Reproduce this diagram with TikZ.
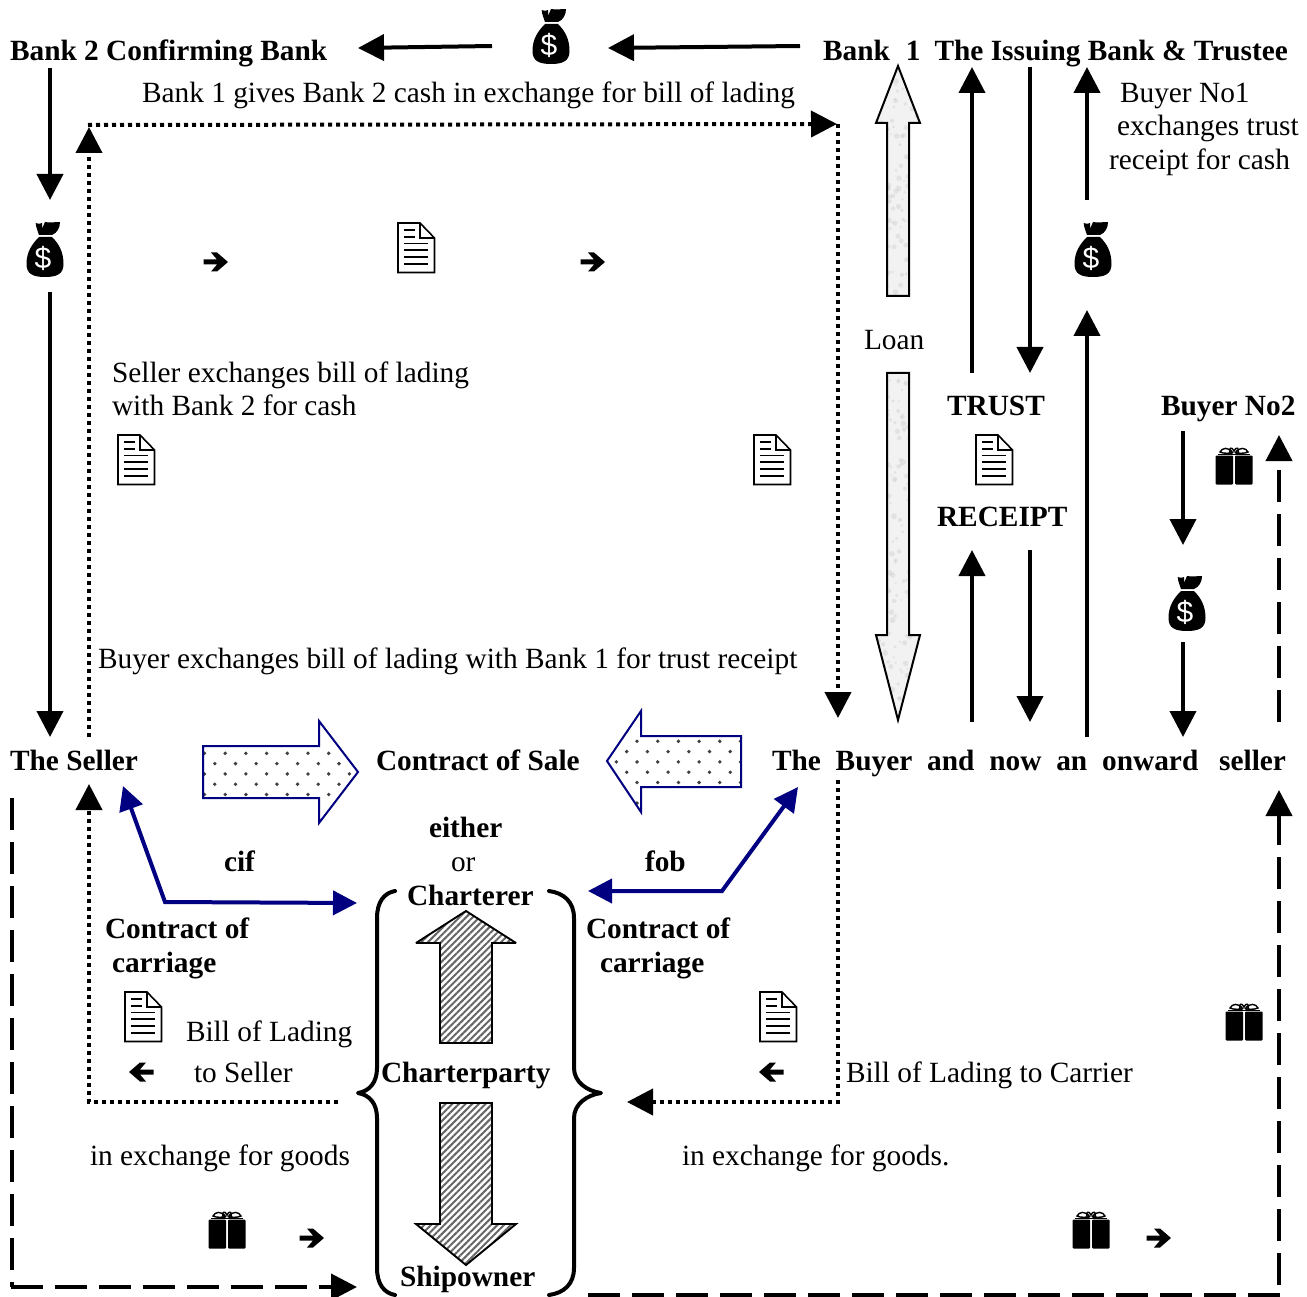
\documentclass[tikz,border=0pt]{standalone}
\usepackage{fontspec}
\setmainfont{Liberation Serif}
\newfontfamily\bagfont{Liberation Sans}
\usetikzlibrary{arrows.meta,patterns.meta}
\definecolor{navyline}{RGB}{0,0,128}
\tikzset{
  x=1pt,y=-1pt,
  txt/.style={anchor=base west,inner sep=0pt,outer sep=0pt,font=\fontsize{29.35}{33}\selectfont},
  btxt/.style={txt,font=\fontsize{29.35}{33}\selectfont\bfseries},
  conn/.style={line width=4pt,-{Triangle[length=26pt,width=26pt]}},
  dotline/.style={line width=4pt,dash pattern=on 4pt off 4pt,-{Triangle[length=26pt,width=26pt]}},
  dashline/.style={line width=4pt,dash pattern=on 32pt off 12pt,-{Triangle[length=26pt,width=26pt]}},
  dashplain/.style={line width=4pt,dash pattern=on 32pt off 12pt},
  blueline/.style={line width=4pt,navyline,{Triangle[length=24pt,width=24pt]}-{Triangle[length=24pt,width=24pt]}},
  brace/.style={line width=4pt,line cap=round,line join=round},
  blockb/.style={draw=navyline,line width=2pt,fill=white,line join=miter},
  blockh/.style={draw=black,line width=1.9pt,miter limit=3,pattern={Lines[angle=45,distance=4.7pt,line width=2pt]},pattern color=black!60},
  blockl/.style={draw=black,line width=2pt},
  moneybag/.pic={
    \fill (-9.3,1) .. controls (-6,2) and (-4,2) .. (-3,1) -- (-3,7) -- (0,0) .. controls (5,1) and (10,0) .. (15,0)
       .. controls (15,6) and (12,11) .. (7,13) -- (-6,13) .. controls (-7,9) and (-9,6) .. (-9.3,1) -- cycle;
    \fill (-6,15) -- (7,15) .. controls (14,22) and (18.5,30) .. (18.5,42) .. controls (18.5,52) and (12,55) .. (0,55)
       .. controls (-12,55) and (-18.5,52) .. (-18.5,42) .. controls (-18.5,30) and (-13,22) .. (-6,15) -- cycle;
    \node[inner sep=0pt,text=white,font=\fontsize{30}{30}\selectfont\bagfont] (-d) at (-2,36) {\$};
  },
  giftbox/.pic={
    \fill[rounded corners=1pt] (-18.5,8.5) rectangle (-1,37.5);
    \fill[rounded corners=1pt] (1,8.5) rectangle (18.5,37.5);
    \draw[line width=1pt] (-16,7) -- (16,7);
    \draw[line width=1.4pt] (-1,6) .. controls (-6,-1) and (-12,1) .. (-14,5) .. controls (-10,7) and (-5,6) .. (-1,6)
       (1,6) .. controls (6,-1) and (12,1) .. (14,5) .. controls (10,7) and (5,6) .. (1,6)
       (-4,6) .. controls (-6,1) and (-2,-1) .. (0,4) .. controls (2,-1) and (6,1) .. (4,6);
  },
  docpage/.pic={
    \draw[line width=1.6pt,fill=white,line join=miter] (0,0) -- (22,0) -- (36.5,15) -- (36.5,49.5) -- (0,49.5) -- cycle;
    \draw[line width=1.6pt] (22,0) -- (22,15) -- (36.5,15);
    \draw[line width=1.6pt] (6,7) -- (17,7) (6,14) -- (17,14) (6,20.5) -- (30,20.5) (6,27) -- (30,27) (6,34) -- (30,34) (6,41) -- (30,41);
  },
  smallarrow/.pic={
    \fill (-11.5,-2.5) -- (2,-2.5) -- (-4,-9.5) -- (2,-9.5) -- (13,0) -- (2,9.5) -- (-4,9.5) -- (2,2.5) -- (-11.5,2.5) -- cycle;
  },
}
\newcommand{\txtat}[4][txt]{\node[#1] (#2) at (#3) {#4};}
\newcommand{\mottle}{%
  \fill[black!5] (860,50) rectangle (930,730);
  \pgfmathsetseed{7}
  \foreach \k in {1,...,420}{
    \pgfmathsetmacro{\px}{874+48*rnd}
    \pgfmathsetmacro{\py}{60+665*rnd}
    \pgfmathsetmacro{\pr}{1+2*rnd}
    \fill[black!22,opacity=0.35] (\px,\py) circle (\pr);
  }%
}
\begin{document}
\begin{tikzpicture}
\useasboundingbox[fill=white] (0,0) rectangle (1307,1297);

% block arrows: navy dotted
\begin{scope}
  \clip (203,746) -- (319,746) -- (319,721) -- (358,772) -- (319,823) -- (319,798) -- (203,798) -- cycle;
  \foreach \r in {0,...,6}{ \foreach \c in {0,...,8}{
     \pgfmathsetmacro{\px}{204.5+\c*20.7+mod(\r+1,2)*10.3}
     \pgfmathsetmacro{\py}{743+\r*10.3}
     \fill[black!75] (\px,\py) circle (1.9);
  }}
\end{scope}
\draw[draw=navyline,line width=2pt] (203,746) -- (319,746) -- (319,721) -- (358,772) -- (319,823) -- (319,798) -- (203,798) -- cycle;
\begin{scope}
  \clip (741,736) -- (641,736) -- (641,711) -- (607,761) -- (641,812) -- (641,787) -- (741,787) -- cycle;
  \foreach \r in {0,...,7}{ \foreach \c in {0,...,7}{
     \pgfmathsetmacro{\px}{606+\c*20.7+mod(\r,2)*10.3}
     \pgfmathsetmacro{\py}{731+\r*10.3}
     \fill[black!75] (\px,\py) circle (1.9);
  }}
\end{scope}
\draw[draw=navyline,line width=2pt] (741,736) -- (641,736) -- (641,711) -- (607,761) -- (641,812) -- (641,787) -- (741,787) -- cycle;

% hatched
\path[blockh] (466,911) -- (516,943) -- (492,943) -- (492,1043) -- (440,1043) -- (440,943) -- (416,943) -- cycle;
\path[blockh] (440,1103) -- (492,1103) -- (492,1224) -- (516,1224) -- (466,1265) -- (416,1224) -- (440,1224) -- cycle;

% Loan
\begin{scope}
  \clip (898,66) -- (920,123) -- (909,123) -- (909,296) -- (887,296) -- (887,123) -- (876,123) -- cycle
        (887,373) -- (909,373) -- (909,635) -- (920,635) -- (898,720) -- (876,635) -- (887,635) -- cycle;
  \mottle
\end{scope}
\path[blockl] (898,66) -- (920,123) -- (909,123) -- (909,296) -- (887,296) -- (887,123) -- (876,123) -- cycle;
\path[blockl] (887,373) -- (909,373) -- (909,635) -- (920,635) -- (898,720) -- (876,635) -- (887,635) -- cycle;

% braces
\draw[brace] (395,891) .. controls (384,893) and (377,902) .. (377,918) -- (377,1068)
   .. controls (377,1082) and (370,1091) .. (358,1093) .. controls (370,1095) and (377,1104) .. (377,1118)
   -- (377,1268) .. controls (377,1284) and (384,1293) .. (395,1295);
\draw[brace] (549,891) .. controls (564,893) and (574,902) .. (574,918) -- (574,1068)
   .. controls (574,1082) and (587,1091) .. (601,1093) .. controls (587,1095) and (574,1104) .. (574,1118)
   -- (574,1268) .. controls (574,1284) and (564,1293) .. (549,1295);

% texts
\txtat[btxt]{bankB}{10,61}{Bank 2 Confirming Bank}
\txtat[btxt]{bankA}{823,61}{Bank\hspace{16pt}1\hspace{14pt}The Issuing Bank \& Trustee}
\txtat{gives}{142,103}{Bank 1 gives Bank 2 cash in exchange for bill of lading}
\txtat{noA}{1120,103}{Buyer No1}
\txtat{noB}{1117,136}{exchanges trust}
\txtat{noC}{1109,170}{receipt for cash}
\txtat{loan}{864,349}{Loan}
\txtat{selA}{112,382}{Seller exchanges bill of lading}
\txtat{selB}{112,415}{with Bank 2 for cash}
\txtat[btxt]{trust}{947,415}{TRUST}
\txtat[btxt]{buyerB}{1161,415}{Buyer No2}
\txtat[btxt]{receipt}{937,526}{RECEIPT}
\txtat{buyx}{98,668}{Buyer exchanges bill of lading with Bank 1 for trust receipt}
\txtat[btxt]{seller}{10,770}{The Seller}
\txtat[btxt]{sale}{376,770}{Contract of Sale}
\txtat[btxt]{buyer}{772,770}{\makebox[514pt][s]{The Buyer and now an onward\hspace{6pt} seller}}
\txtat[btxt]{either}{429,837}{either}
\txtat{or}{451,871}{or}
\txtat[btxt]{cif}{224,871}{cif}
\txtat[btxt]{fob}{645,871}{fob}
\txtat[btxt]{charterer}{407,905}{Charterer}
\txtat[btxt]{cocA}{105,938}{Contract of}
\txtat[btxt]{carA}{112,972}{carriage}
\txtat[btxt]{cocB}{586,938}{Contract of}
\txtat[btxt]{carB}{600,972}{carriage}
\txtat{blA}{186,1041}{Bill of Lading}
\txtat{toS}{194,1082}{to Seller}
\txtat[btxt]{cparty}{381,1082}{Charterparty}
\txtat{blC}{846,1082}{Bill of Lading to Carrier}
\txtat{exA}{90,1165}{in exchange for goods}
\txtat{exB}{682,1165}{in exchange for goods.}
\txtat[btxt]{owner}{400,1286}{Shipowner}

% icons
\pic (bagA) at (551,9) {moneybag};
\pic (bagB) at (45,222) {moneybag};
\pic (bagC) at (1093,222) {moneybag};
\pic (bagD) at (1187,576) {moneybag};
\pic (gfA) at (1234,447) {giftbox};
\pic (gfB) at (1244,1003) {giftbox};
\pic (gfC) at (227,1211) {giftbox};
\pic (gfD) at (1091,1211) {giftbox};
\pic (dcA) at (398,223) {docpage};
\pic (dcB) at (118,435) {docpage};
\pic (dcC) at (754,435) {docpage};
\pic (dcD) at (976,435) {docpage};
\pic (dcE) at (125,992) {docpage};
\pic (dcF) at (760,992) {docpage};
\pic (saA) at (215,262) {smallarrow};
\pic (saB) at (592,262) {smallarrow};
\pic (saC) at (1158,1238) {smallarrow};
\pic (saD) at (311,1238) {smallarrow};
\pic[rotate=180] (saE) at (142,1072) {smallarrow};
\pic[rotate=180] (saF) at (772,1072) {smallarrow};

% connector ends
\coordinate (c1a) at (492,46); \coordinate (c1b) at (358,48);
\coordinate (c2a) at (800,46); \coordinate (c2b) at (608,48);
\coordinate (c3a) at (50,68);  \coordinate (c3b) at (50,200);
\coordinate (c4a) at (50,292); \coordinate (c4b) at (50,737);
\coordinate (c5a) at (972,373); \coordinate (c5b) at (972,67);
\coordinate (c6a) at (1030,67); \coordinate (c6b) at (1030,373);
\coordinate (c7a) at (1087,200); \coordinate (c7b) at (1087,67);
\coordinate (c8a) at (1087,737); \coordinate (c8b) at (1087,310);
\coordinate (c9a) at (972,722); \coordinate (c9b) at (972,550);
\coordinate (c10a) at (1030,550); \coordinate (c10b) at (1030,722);
\coordinate (c11a) at (1183,431); \coordinate (c11b) at (1183,545);
\coordinate (c12a) at (1183,642); \coordinate (c12b) at (1183,737);
\foreach \n in {1,...,12} \draw[conn] (c\n a) -- (c\n b);

% dotted
\coordinate (d1a) at (89,737); \coordinate (d1b) at (89,127);
\coordinate (d2a) at (88,125); \coordinate (d2c) at (837,124);
\coordinate (d3a) at (838,124); \coordinate (d3b) at (838,718);
\coordinate (d4a) at (838,780); \coordinate (d4c) at (838,1102); \coordinate (d4b) at (627,1102);
\coordinate (d5a) at (338,1102); \coordinate (d5c) at (89,1102); \coordinate (d5b) at (89,784);
\draw[dotline] (d1a) -- (d1b);
\draw[dotline] (d2a) -- (d2c);
\draw[dotline] (d3a) -- (d3b);
\draw[dotline] (d4a) -- (d4c) -- (d4b);
\draw[dotline] (d5a) -- (d5c) -- (d5b);

% dashed
\coordinate (e1a) at (12,798); \coordinate (e1c) at (12,1287); \coordinate (e1d) at (11,1287); \coordinate (e1b) at (357,1287);
\coordinate (e2a) at (588,1295); \coordinate (e2c) at (1280,1295); \coordinate (e2d) at (1279,1285); \coordinate (e2b) at (1279,790);
\coordinate (e3a) at (1279,722); \coordinate (e3b) at (1279,435);
\draw[dashplain] (e1a) -- (e1c);
\draw[dashline] (e1d) -- (e1b);
\draw[dashplain] (e2a) -- (e2c);
\draw[dashline] (e2d) -- (e2b);
\draw[dashline] (e3a) -- (e3b);

% blue
\coordinate (b1a) at (123,786); \coordinate (b1c) at (165,902); \coordinate (b1b) at (357,903);
\coordinate (b2a) at (798,787); \coordinate (b2c) at (722,891); \coordinate (b2b) at (588,891);
\draw[blueline] (b1a) -- (b1c) -- (b1b);
\draw[blueline] (b2a) -- (b2c) -- (b2b);
\end{tikzpicture}
\end{document}
